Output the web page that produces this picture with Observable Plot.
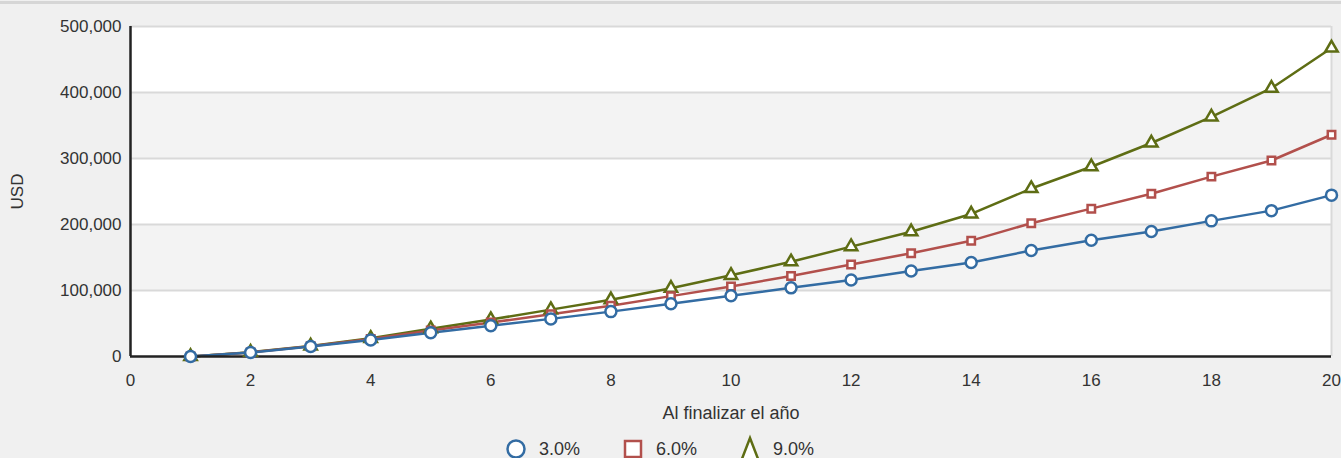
<!DOCTYPE html>
<html>
<head>
<meta charset="utf-8">
<script src="https://cdn.jsdelivr.net/npm/d3@7"></script>
<script src="https://cdn.jsdelivr.net/npm/@observablehq/plot@0.6"></script>
<style>
  html, body { margin: 0; padding: 0; background: #f0f0f0; overflow: hidden; }
  body { width: 1341px; height: 458px; position: relative; font-family: "Liberation Sans", Arial, sans-serif; }
  #topline { position: absolute; left: 0; top: 1px; width: 1341px; height: 3px; background: #d6d6d6; }
  #chart svg { display: block; }
  #legend { display: flex; justify-content: center; align-items: flex-start; height: 26px; font-size: 18px; color: #333; margin-left: -22px; overflow: hidden; }
  .item { display: flex; align-items: flex-start; margin: 0 21px; }
  .item svg { margin-right: 12px; display: block; }
  .item span { padding-top: 8px; line-height: 18px; }
</style>
</head>
<body>
<div id="topline"></div>
<div id="chart"></div>
<div id="legend"></div>
<script>
const years = [1,2,3,4,5,6,7,8,9,10,11,12,13,14,15,16,17,18,19,20];
const rate3 = [0, 6000, 15000, 25000, 36000, 46500, 57000, 68000, 80000, 92000, 104000, 116000, 129500, 142500, 160500, 176000, 189500, 205500, 221000, 244500];
const rate6 = [0, 6200, 15500, 26500, 39500, 51500, 64000, 77000, 91500, 106000, 122000, 139500, 156500, 175500, 202000, 224000, 246500, 272500, 297000, 336000];
const rate9 = [0, 6500, 16000, 27500, 42000, 56000, 71000, 86000, 103500, 123000, 143500, 166500, 189000, 216000, 254500, 287500, 323500, 363000, 406500, 467500];
const seriesNames = ["3.0%", "6.0%", "9.0%"];
const seriesColors = ["#336ca3", "#b2504c", "#5e6d14"];
const seriesSymbols = ["circle", "square", "triangle"];
const yTicks = [0, 100000, 200000, 300000, 400000, 500000];
const xTicks = [0, 2, 4, 6, 8, 10, 12, 14, 16, 18, 20];
const grayBands = [[100000, 200000], [300000, 400000]];

const allSeries = [rate3, rate6, rate9];
const rows = [];
allSeries.forEach((vals, s) => years.forEach((yr, i) => rows.push({year: yr, value: vals[i], s})));
const drawOrder = [2, 1, 0];

const marks = [
  Plot.frame({fill: "white", stroke: null}),
  Plot.rect(grayBands, {x1: 0, x2: 20, y1: d => d[0], y2: d => d[1], fill: "#f3f3f3"}),
  Plot.ruleY(yTicks.slice(1), {stroke: "#d9d9d9", strokeWidth: 2}),
  Plot.ruleX([20], {stroke: "#d9d9d9", strokeWidth: 2}),
  Plot.axisX({ticks: xTicks, tickSize: 0, tickPadding: 17, fontSize: 17, label: null}),
  Plot.axisX({ticks: [], tickSize: 0, fontSize: 18, label: "Al finalizar el año", labelAnchor: "center", labelArrow: "none", labelOffset: 62}),
  Plot.axisY({ticks: yTicks, tickSize: 0, tickPadding: 9, fontSize: 17, tickFormat: d3.format(","), label: "USD", labelAnchor: "center", labelArrow: "none", labelOffset: 120}),
];
drawOrder.forEach(s => {
  marks.push(Plot.line(rows.filter(r => r.s === s), {x: "year", y: "value", stroke: seriesColors[s], strokeWidth: 2.5}));
});
marks.push(Plot.ruleX([0], {stroke: "#222", strokeWidth: 2.5}));
marks.push(Plot.ruleY([0], {stroke: "#222", strokeWidth: 2.5}));
drawOrder.forEach(s => {
  marks.push(Plot.dot(rows.filter(r => r.s === s), {x: "year", y: "value", stroke: seriesColors[s], fill: "white", strokeWidth: 2.5, symbol: seriesSymbols[s], r: s === 1 ? 4.2 : (s === 2 ? 4.6 : 5.5)}));
});

const chart = Plot.plot({
  width: 1341,
  height: 432,
  marginTop: 26,
  marginBottom: 76,
  marginLeft: 130,
  marginRight: 10,
  style: {background: "transparent", fontFamily: "Liberation Sans, Arial, sans-serif", color: "#333", overflow: "visible"},
  x: {domain: [0, 20]},
  y: {domain: [0, 500000]},
  marks
});
document.getElementById("chart").appendChild(chart);

const legend = document.getElementById("legend");
seriesNames.forEach((name, s) => {
  const item = document.createElement("div");
  item.className = "item";
  const svg = d3.create("svg").attr("width", 22).attr("height", 34);
  const kind = seriesSymbols[s];
  const style = sel => sel.attr("fill", "white").attr("stroke", seriesColors[s]).attr("stroke-width", 2.5);
  if (kind === "circle") {
    svg.append("circle").attr("cx", 11).attr("cy", 17).attr("r", 8.5).call(style);
  } else if (kind === "square") {
    svg.append("rect").attr("x", 3).attr("y", 9).attr("width", 16).attr("height", 16).call(style);
  } else {
    svg.append("path").attr("d", "M11,6 L21,32 L1,32 Z").call(style);
  }
  item.appendChild(svg.node());
  const t = document.createElement("span");
  t.textContent = name;
  item.appendChild(t);
  legend.appendChild(item);
});
</script>
</body>
</html>
